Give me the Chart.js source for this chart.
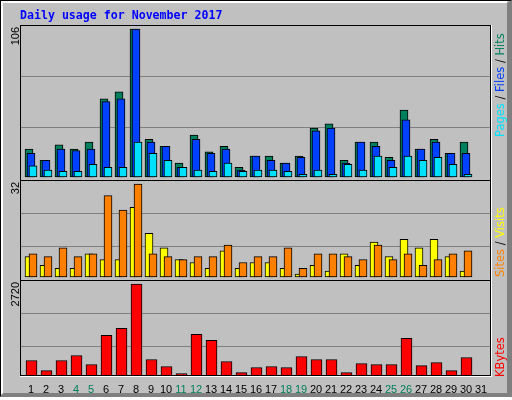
<!DOCTYPE html>
<html>
<head>
<meta charset="utf-8">
<script src="https://cdn.jsdelivr.net/npm/chart.js@4.4.1/dist/chart.umd.min.js"></script>
<style>
  html, body { margin: 0; padding: 0; background: #fff; }
  canvas { display: block; }
</style>
</head>
<body>
<canvas id="usage" width="512" height="400"></canvas>
<script>
// Daily usage for November 2017 (webalizer style)
const days = [1, 2, 3, 4, 5, 6, 7, 8, 9, 10, 11, 12, 13, 14, 15, 16, 17, 18, 19, 20, 21, 22, 23, 24, 25, 26, 27, 28, 29, 30, 31];
const weekendDays = [4, 5, 11, 12, 18, 19, 25, 26];

const hits   = [20, 12, 23, 20, 25, 56, 61, 106, 27, 22, 10, 30, 18, 22, 7, 15, 15, 10, 15, 35, 38, 12, 25, 25, 14, 48, 20, 27, 17, 25];
const files  = [17, 12, 20, 19, 20, 54, 56, 106, 25, 22, 7, 27, 17, 20, 5, 15, 12, 10, 14, 33, 35, 10, 25, 22, 12, 41, 20, 25, 17, 17];
const pages  = [8, 5, 4, 4, 9, 7, 7, 25, 17, 12, 7, 5, 4, 10, 4, 5, 5, 4, 2, 5, 2, 9, 5, 15, 7, 15, 12, 14, 9, 2];
const visits = [7, 4, 3, 3, 8, 6, 6, 24, 15, 10, 6, 5, 3, 9, 3, 5, 5, 3, 1, 4, 2, 8, 4, 12, 7, 13, 10, 13, 7, 2];
const sites  = [8, 7, 10, 7, 8, 28, 23, 32, 8, 7, 6, 7, 7, 11, 5, 7, 7, 10, 3, 8, 8, 7, 6, 11, 6, 8, 4, 6, 8, 9];
const kbytes = [458, 161, 458, 607, 339, 1202, 1411, 2720, 488, 280, 71, 1232, 1054, 429, 101, 250, 280, 250, 577, 488, 488, 101, 369, 339, 339, 1113, 309, 399, 161, 548];

const DAY_PX = 15; // width of one day on the x axis

// the three stacked panels (pixel geometry of the original graph)
const panels = [
    { id: 'yHits', top: 25, bottom: 180, padTop: 4, padBottom: 3, grid: [51, 102], peak: Math.max(...hits) },
    { id: 'yVisits', top: 180, bottom: 280, padTop: 4, padBottom: 3, grid: [33, 66], peak: Math.max(...sites, ...visits) },
    { id: 'yKB', top: 280, bottom: 376, padTop: 4, padBottom: 0, grid: [33, 66], peak: Math.max(...kbytes) }
];

const yScale = function (p, weight) {
    const unit = (p.bottom - p.top - p.padTop - p.padBottom) / p.peak; // px per value
    const max = p.peak + p.padTop / unit;
    return {
        type: 'linear',
        position: 'left',
        stack: 'panels',
        stackWeight: p.bottom - p.top,
        weight: weight,
        bounds: 'data',
        min: -p.padBottom / unit,
        max: max,
        afterBuildTicks: function (scale) {
            scale.ticks = p.grid.map(off => ({ value: max - (off + 0.25) / unit }));
        },
        ticks: { display: false },
        grid: { color: '#808080', lineWidth: 1, drawTicks: false },
        border: { display: false }
    };
};

const series = function (label, values, axis, color, shift, width, order) {
    return {
        label: label,
        data: values.map((v, i) => ({ x: days[i] + shift / DAY_PX, y: v })),
        yAxisID: axis,
        backgroundColor: color,
        borderColor: '#000000',
        borderWidth: 1,
        borderSkipped: false,
        barThickness: width,
        grouped: false,
        order: order
    };
};

const drawUp = function (ctx, parts, x, y, font) {
    // text running bottom -> top, starting at y, baseline at x
    ctx.save();
    ctx.translate(x, y);
    ctx.rotate(-Math.PI / 2);
    ctx.font = font;
    ctx.textAlign = 'left';
    ctx.textBaseline = 'alphabetic';
    let pos = 0;
    parts.forEach(function (p) {
        ctx.fillStyle = p[1];
        ctx.fillText(p[0], pos, 0);
        pos += ctx.measureText(p[0]).width;
    });
    ctx.restore();
};

const textWidth = function (ctx, text, font) {
    ctx.save();
    ctx.font = font;
    const w = ctx.measureText(text).width;
    ctx.restore();
    return w;
};

const webalizerFrame = {
    id: 'webalizerFrame',
    beforeDraw: function (chart) {
        const ctx = chart.ctx;
        ctx.save();
        ctx.fillStyle = '#c0c0c0';
        ctx.fillRect(0, 0, 512, 400);
        ctx.fillStyle = '#000000';
        ctx.fillRect(0, 0, 512, 1);
        ctx.fillRect(0, 0, 1, 397);
        ctx.fillStyle = '#ffffff';
        ctx.fillRect(1, 1, 506, 2);
        ctx.fillRect(1, 1, 2, 393);
        ctx.fillRect(0, 397, 512, 3);
        ctx.fillStyle = '#808080';
        ctx.beginPath();
        ctx.moveTo(507, 3); ctx.lineTo(512, 0); ctx.lineTo(512, 397); ctx.lineTo(507, 397);
        ctx.closePath(); ctx.fill();
        ctx.beginPath();
        ctx.moveTo(3, 393); ctx.lineTo(507, 393); ctx.lineTo(512, 397); ctx.lineTo(0, 397);
        ctx.closePath(); ctx.fill();
        ctx.restore();
    },
    afterDraw: function (chart) {
        const ctx = chart.ctx;
        const area = chart.chartArea;
        ctx.save();
        // plot box
        ctx.fillStyle = '#000000';
        ctx.fillRect(area.left, area.top, area.right - area.left + 1, 1);
        ctx.fillRect(area.left, area.top, 1, area.bottom - area.top);
        ctx.fillRect(area.right, area.top, 1, area.bottom - area.top);
        ctx.fillRect(area.left, area.bottom - 1, area.right - area.left + 1, 1);
        ctx.fillStyle = '#ffffff';
        ctx.fillRect(area.right + 1, area.top, 1, area.bottom - area.top + 1);
        ctx.fillRect(area.left, area.bottom, area.right - area.left + 2, 1);
        // panel separators
        ctx.fillStyle = '#000000';
        panels.slice(1).forEach(function (p) {
            ctx.fillRect(area.left, p.top, area.right - area.left, 1);
        });

        // title
        ctx.font = 'bold 11.6px "DejaVu Sans Mono"';
        ctx.fillStyle = '#0000ff';
        ctx.textAlign = 'left';
        ctx.textBaseline = 'alphabetic';
        ctx.fillText('Daily usage for November 2017', 20, 19);
        ctx.restore();

        // peak values on the left
        const numFont = '11px "Liberation Sans"';
        panels.forEach(function (p) {
            const label = String(p.peak);
            drawUp(ctx, [[label, '#000000']], 19, p.top + 2 + textWidth(ctx, label, numFont), numFont);
        });

        // series names on the right
        const legFont = '11.5px "DejaVu Sans"';
        drawUp(ctx, [['Pages', '#00e0ff'], [' / ', '#000000'], ['Files', '#0040ff'], [' / ', '#000000'], ['Hits', '#00805c']], 504, 137, legFont);
        drawUp(ctx, [['Sites', '#ff8000'], [' / ', '#000000'], ['Visits', '#ffff00']], 504, 277, legFont);
        drawUp(ctx, [['KBytes', '#ff0000']], 504, 377, legFont);
    }
};

const ctx = document.getElementById('usage').getContext('2d');
const usageChart = new Chart(ctx, {
    type: 'bar',
    data: {
        datasets: [
            series('Hits', hits, 'yHits', '#00805c', -2, 8, 3),
            series('Files', files, 'yHits', '#0040ff', 0, 8, 2),
            series('Pages', pages, 'yHits', '#00e0ff', 2, 8, 1),
            series('Visits', visits, 'yVisits', '#ffff00', -2, 8, 2),
            series('Sites', sites, 'yVisits', '#ff8000', 2, 8, 1),
            series('KBytes', kbytes, 'yKB', '#ff0000', 0.5, 11, 1)
        ]
    },
    options: {
        responsive: false,
        animation: false,
        events: [],
        layout: { padding: { left: 20, top: 25, right: 22, bottom: 4 } },
        plugins: { legend: { display: false }, tooltip: { enabled: false }, title: { display: false } },
        scales: {
            x: {
                type: 'linear',
                bounds: 'data',
                offset: false,
                min: 4 / DAY_PX,
                max: 474 / DAY_PX,
                afterBuildTicks: function (scale) {
                    scale.ticks = days.map(d => ({ value: d }));
                },
                afterFit: function (scale) {
                    scale.height = 20;
                },
                ticks: {
                    autoSkip: false,
                    maxRotation: 0,
                    padding: 7,
                    font: { family: 'Liberation Sans', size: 11 },
                    color: c => weekendDays.includes(c.tick.value) ? '#00805c' : '#000000',
                    callback: v => String(v)
                },
                grid: { display: false, drawTicks: false },
                border: { display: false }
            },
            yHits: yScale(panels[0], 3),
            yVisits: yScale(panels[1], 2),
            yKB: yScale(panels[2], 1)
        }
    },
    plugins: [webalizerFrame]
});
</script>
</body>
</html>
